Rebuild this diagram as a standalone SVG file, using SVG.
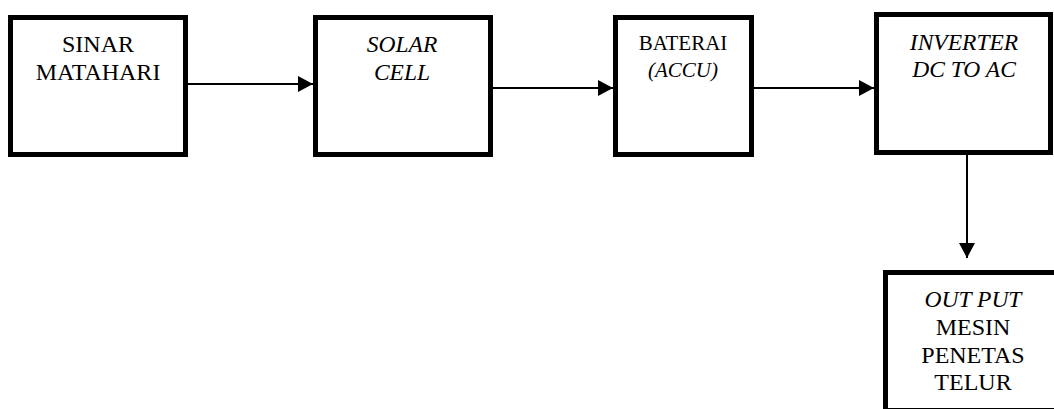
<svg xmlns="http://www.w3.org/2000/svg" width="1054" height="409" viewBox="0 0 1054 409">
<style>
.box{fill:#fff;stroke:#000;stroke-width:5}
.t{font-family:'Liberation Serif','Times New Roman',serif;font-size:23.5px;fill:#000;text-anchor:middle}
.u{font-size:24px}
.s{font-size:21px}
.i{font-style:italic}
.c{stroke:#000;stroke-width:2;fill:none;marker-end:url(#ah)}
</style>
<defs>
<marker id="ah" markerUnits="userSpaceOnUse" markerWidth="15" markerHeight="16" refX="15" refY="8" orient="auto" viewBox="0 0 15 16">
<path d="M0,0 L15,8 L0,16 z" fill="#000"/>
</marker>
</defs>
<rect width="1054" height="409" fill="#fff"/>
<g id="connectors">
<line class="c" x1="188" y1="84" x2="313" y2="84"/>
<line class="c" x1="493" y1="88" x2="613" y2="88"/>
<line class="c" x1="754" y1="88" x2="874" y2="88"/>
<line class="c" x1="967" y1="155" x2="967" y2="258"/>
</g>
<g id="sinar">
<rect class="box" x="10.5" y="17.5" width="175" height="137"/>
<text class="t u" x="98" y="52">SINAR</text>
<text class="t u" x="98" y="80">MATAHARI</text>
</g>
<g id="solar">
<rect class="box" x="315.5" y="17.5" width="175" height="137"/>
<text class="t i" x="402" y="52">SOLAR</text>
<text class="t i" x="402" y="80">CELL</text>
</g>
<g id="baterai">
<rect class="box" x="615.5" y="17.5" width="136" height="137"/>
<text class="t s" x="683" y="50">BATERAI</text>
<text class="t s i" x="683" y="77">(ACCU)</text>
</g>
<g id="inverter">
<rect class="box" x="876.5" y="14.5" width="174" height="138"/>
<text class="t i" x="964" y="50">INVERTER</text>
<text class="t i" x="964" y="77">DC TO AC</text>
</g>
<g id="output">
<rect class="box" x="885.5" y="272.5" width="200" height="138"/>
<text class="t i" x="973" y="307">OUT PUT</text>
<text class="t u" x="973" y="335">MESIN</text>
<text class="t u" x="973" y="363">PENETAS</text>
<text class="t u" x="973" y="390">TELUR</text>
</g>
</svg>
